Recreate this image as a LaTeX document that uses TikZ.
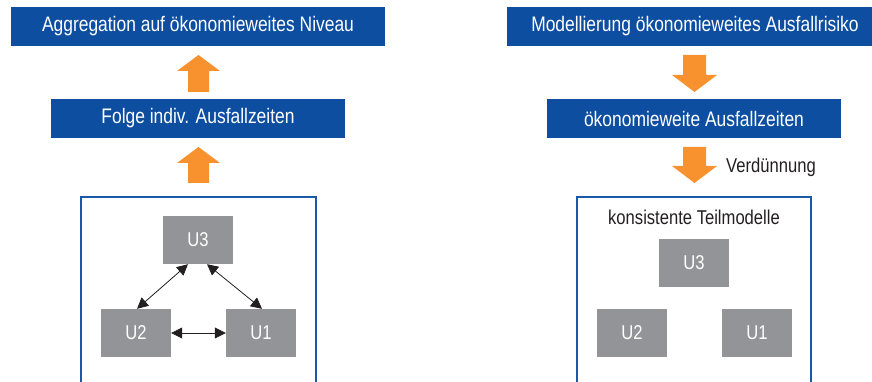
\documentclass[tikz,border=0pt]{standalone}
\usepackage{fontspec}
\setmainfont{Liberation Sans}[FakeStretch=0.83]
\usetikzlibrary{arrows.meta}
\definecolor{boxblue}{RGB}{13,78,160}
\definecolor{frameblue}{RGB}{28,88,168}
\definecolor{arrorange}{RGB}{247,146,47}
\definecolor{ugray}{RGB}{146,148,151}
\definecolor{txtdark}{RGB}{35,31,32}
\tikzset{
  bluebox/.style={fill=boxblue, text=white, inner sep=0pt, minimum height=39pt, font=\fontsize{21}{24}\selectfont},
  ubox/.style={fill=ugray, text=white, inner sep=0pt, minimum width=70pt, minimum height=48pt, font=\fontsize{20}{23}\selectfont},
  frame/.style={draw=frameblue, line width=2pt},
  blockarrow/.style={fill=arrorange},
  linkarrow/.style={{Triangle[length=11pt,width=11pt]}-{Triangle[length=11pt,width=11pt]}, line width=0.8pt, draw=txtdark},
  plain/.style={text=txtdark, inner sep=0pt, font=\fontsize{20}{23}\selectfont}
}
\begin{document}
\begin{tikzpicture}[x=1pt,y=-1pt]
\useasboundingbox (0,0) rectangle (872,382);
% left column
\node[bluebox, minimum width=374pt] (agg) at (198,26.5) {Aggregation auf ökonomieweites Niveau};
\node[bluebox, minimum width=294pt] (folge) at (198,118.5) {Folge indiv. Ausfallzeiten};
% up arrows
\fill[blockarrow] (188,92) -- (188,71) -- (177,71) -- (198.5,55) -- (220,71) -- (209,71) -- (209,92) -- cycle;
\fill[blockarrow] (188,183) -- (188,163) -- (177,163) -- (198.5,147) -- (220,163) -- (209,163) -- (209,183) -- cycle;
% left frame
\draw[frame] (81,390) -- (81,197) -- (316,197) -- (316,390);
\node[ubox] (lu3) at (198,240) {U3};
\node[ubox] (lu2) at (136,333) {U2};
\node[ubox] (lu1) at (261,333) {U1};
\draw[linkarrow] ([xshift=-10pt]lu3.south) -- ([xshift=1pt]lu2.north);
\draw[linkarrow] ([xshift=9pt]lu3.south) -- ([xshift=1pt]lu1.north);
\draw[linkarrow] (lu2.east) -- (lu1.west);
% right column
\node[bluebox, minimum width=376pt] (model) at (695,26.5) {Modellierung ökonomieweites Ausfallrisiko};
\node[bluebox, minimum width=294pt] (oeko) at (694,118.5) {ökonomieweite Ausfallzeiten};
\fill[blockarrow] (683,55) -- (683,75) -- (672,75) -- (694.5,92) -- (717,75) -- (706,75) -- (706,55) -- cycle;
\fill[blockarrow] (683,147) -- (683,166) -- (672,166) -- (694.5,183) -- (717,166) -- (706,166) -- (706,147) -- cycle;
\node[plain, anchor=west] (verd) at (726,167) {Verdünnung};
% right frame
\draw[frame] (577,390) -- (577,197) -- (811,197) -- (811,390);
\node[plain] (kons) at (694,217) {konsistente Teilmodelle};
\node[ubox] (ru3) at (694,262.5) {U3};
\node[ubox] (ru2) at (632,333) {U2};
\node[ubox] (ru1) at (757,333) {U1};
\end{tikzpicture}
\end{document}
